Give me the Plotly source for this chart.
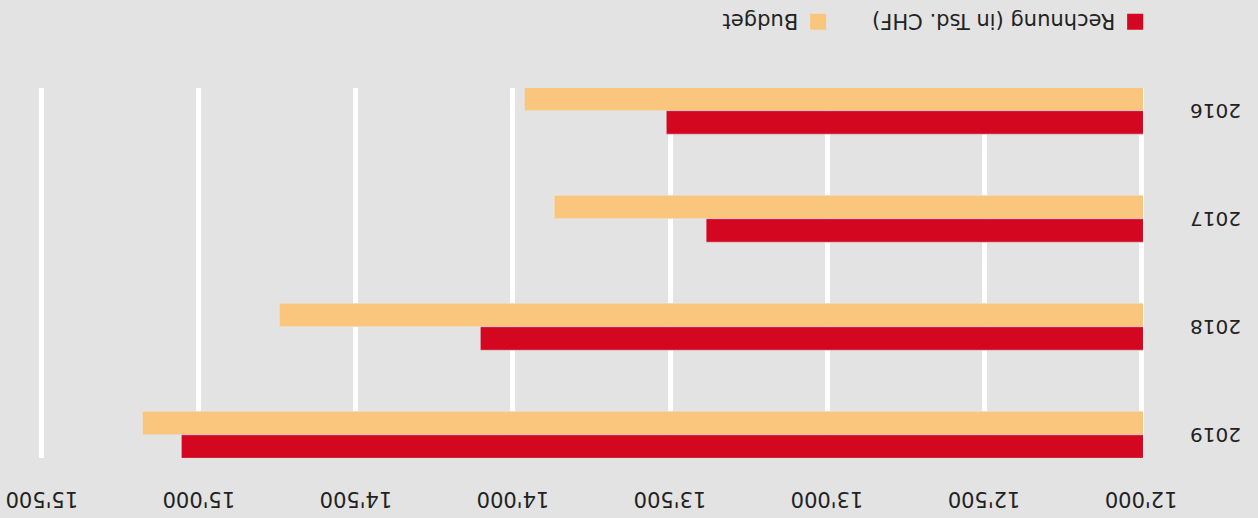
import plotly.graph_objects as go

years = ["2016", "2017", "2018", "2019"]
rechnung = [13512, 13385, 14104, 15056]
budget = [13964, 13869, 14744, 15180]
x_ticks = [12000, 12500, 13000, 13500, 14000, 14500, 15000, 15500]
series_names = ["Rechnung (in Tsd. CHF)", "Budget"]

RED = "#d3071f"
ORANGE = "#fac67e"
BG = "#e3e3e3"
FONT = "DejaVu Sans"

fig = go.Figure()
# Budget first so it sits below Rechnung in each group (before the 180° turn)
fig.add_trace(go.Bar(y=years, x=budget, orientation="h", marker_color=ORANGE,
                     name=series_names[1], showlegend=False))
fig.add_trace(go.Bar(y=years, x=rechnung, orientation="h", marker_color=RED,
                     name=series_names[0], showlegend=False))
# legend entries
fig.add_trace(go.Scatter(x=[None], y=[None], mode="markers", name=series_names[0],
                         marker=dict(symbol="square", size=22, color=RED)))
fig.add_trace(go.Scatter(x=[None], y=[None], mode="markers", name=series_names[1],
                         marker=dict(symbol="square", size=22, color=ORANGE)))

fig.update_layout(
    width=1258, height=518,
    margin=dict(l=115, r=40, t=60, b=88, autoexpand=False),
    paper_bgcolor=BG, plot_bgcolor=BG,
    font=dict(family=FONT, size=21, color="#222222"),
    separators=".'",
    barmode="group", bargap=0.565, bargroupgap=0,
    showlegend=True,
    legend=dict(orientation="h", x=-0.011, xanchor="left", y=-0.18, yanchor="middle",
                font=dict(size=21), entrywidth=272, entrywidthmode="pixels",
                bgcolor="rgba(0,0,0,0)"),
    xaxis=dict(range=[11994, 15506], side="top", tickvals=x_ticks, tickformat=",",
               showgrid=True, gridcolor="white", gridwidth=5, zeroline=False,
               showline=False, ticks="", ticklabelstandoff=29,
               tickfont=dict(size=21)),
    yaxis=dict(type="category", categoryorder="array", categoryarray=years,
               range=[-0.21, 3.215], showgrid=False, zeroline=False, showline=False,
               ticks="", ticklabelstandoff=46, tickfont=dict(size=20)),
)

post = ("document.body.style.margin='0';"
        "var d=document.getElementById('{plot_id}');"
        "d.style.transform='rotate(180deg)';")
fig.write_html("out.html", post_script=post, config={"displayModeBar": False})
